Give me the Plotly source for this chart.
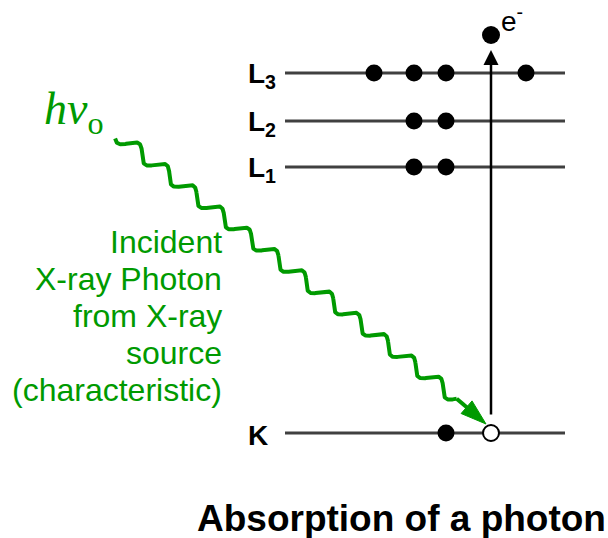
import numpy as np
import plotly.graph_objects as go

# ---- diagram data (pixel-space coordinates of the level diagram) ----
level_labels = ["L<sub>3</sub>", "L<sub>2</sub>", "L<sub>1</sub>", "K"]
level_y = [73, 121, 167, 433]
level_x = [285, 565]
electron_x = [[374, 414, 446, 526], [414, 446], [414, 446], [446]]
vacancy_x = [491]
ejected_x = [491]
ejected_y = [35]
eject_arrow_from = 416
eject_arrow_to = 50
photon_first_drop = (142, 154)
photon_last_drop = (443, 388)
photon_drops = 12
photon_tip = (486, 424)
source_lines = ["Incident", "X-ray Photon", "from X-ray", "source", "(characteristic)"]
source_line_y = [242, 279, 316, 353, 390]

GREEN = "#009a00"
LINE = "#404040"

fig = go.Figure()

# energy levels
for y in level_y:
    fig.add_trace(go.Scatter(x=level_x, y=[y, y], mode="lines",
                             line=dict(color=LINE, width=3), hoverinfo="skip"))

# filled electrons
for xs, y in zip(electron_x, level_y):
    fig.add_trace(go.Scatter(x=xs, y=[y] * len(xs), mode="markers",
                             marker=dict(size=17, color="black"), hoverinfo="skip"))

# vacancy in K shell
fig.add_trace(go.Scatter(x=vacancy_x, y=[level_y[3]], mode="markers",
                         marker=dict(size=16, color="white",
                                     line=dict(color="black", width=2)),
                         hoverinfo="skip"))

# ejected electron
fig.add_trace(go.Scatter(x=ejected_x, y=ejected_y, mode="markers",
                         marker=dict(size=18, color="black"), hoverinfo="skip"))

# wavy photon path
d0 = np.array(photon_first_drop, float)
d1 = np.array(photon_last_drop, float)
per = (d1 - d0) / (photon_drops - 1)
unit = per / np.linalg.norm(per)
normal = np.array([unit[1], -unit[0]])
amp = 6.5
theta = np.linspace(-np.pi + 0.7, 24 * np.pi, 1000)
centre = d0[None, :] + ((theta - np.pi) / (2 * np.pi))[:, None] * per[None, :]
pts = centre + amp * np.sin(theta)[:, None] * normal[None, :]
fig.add_trace(go.Scatter(x=pts[:, 0], y=pts[:, 1], mode="lines",
                         line=dict(color=GREEN, width=4), hoverinfo="skip"))
wave_end = pts[-1]

# photon arrow: straight tail + narrow arrow head marker
fig.add_trace(go.Scatter(x=[wave_end[0], photon_tip[0]], y=[wave_end[1], photon_tip[1]],
                         mode="lines+markers",
                         line=dict(color=GREEN, width=4),
                         marker=dict(symbol="arrow", size=[0, 27], angleref="previous",
                                     color=GREEN, opacity=1,
                                     line=dict(width=1, color=GREEN)),
                         hoverinfo="skip"))

ann = []
# ejection arrow
ann.append(dict(x=vacancy_x[0], y=eject_arrow_to, ax=vacancy_x[0], ay=eject_arrow_from,
                xref="x", yref="y", axref="x", ayref="y", text="",
                showarrow=True, arrowhead=2, arrowsize=1.2, arrowwidth=2.5,
                arrowcolor="black", standoff=0))

# level labels
for lab, y in zip(level_labels, level_y):
    ann.append(dict(x=246, y=y + 2, xref="x", yref="y", text="<b>%s</b>" % lab,
                    showarrow=False, xanchor="left", yanchor="middle",
                    font=dict(family="Liberation Sans", size=28, color="black")))

# e- label
ann.append(dict(x=499, y=19, xref="x", yref="y", text="e<sup>-</sup>",
                showarrow=False, xanchor="left", yanchor="middle",
                font=dict(family="Liberation Sans", size=28, color="black")))

# h nu_0
ann.append(dict(x=42, y=112, xref="x", yref="y", text="<i>hν</i><sub>o</sub>",
                showarrow=False, xanchor="left", yanchor="middle",
                font=dict(family="Liberation Serif", size=46, color=GREEN)))

# source text
for t, y in zip(source_lines, source_line_y):
    ann.append(dict(x=224, y=y, xref="x", yref="y", text=t,
                    showarrow=False, xanchor="right", yanchor="middle",
                    font=dict(family="Liberation Sans", size=32, color=GREEN)))

# title
ann.append(dict(x=401, y=518, xref="x", yref="y", text="<b>Absorption of a photon</b>",
                showarrow=False, xanchor="center", yanchor="middle",
                font=dict(family="Liberation Sans", size=37, color="black")))

fig.update_layout(
    width=608, height=538,
    margin=dict(l=0, r=0, t=0, b=0),
    paper_bgcolor="white", plot_bgcolor="white",
    showlegend=False,
    xaxis=dict(range=[0, 608], visible=False, fixedrange=True),
    yaxis=dict(range=[538, 0], visible=False, fixedrange=True),
    annotations=ann,
)

fig.write_html("out.html", config={"displayModeBar": False},
               post_script="document.body.style.margin='0px';")
